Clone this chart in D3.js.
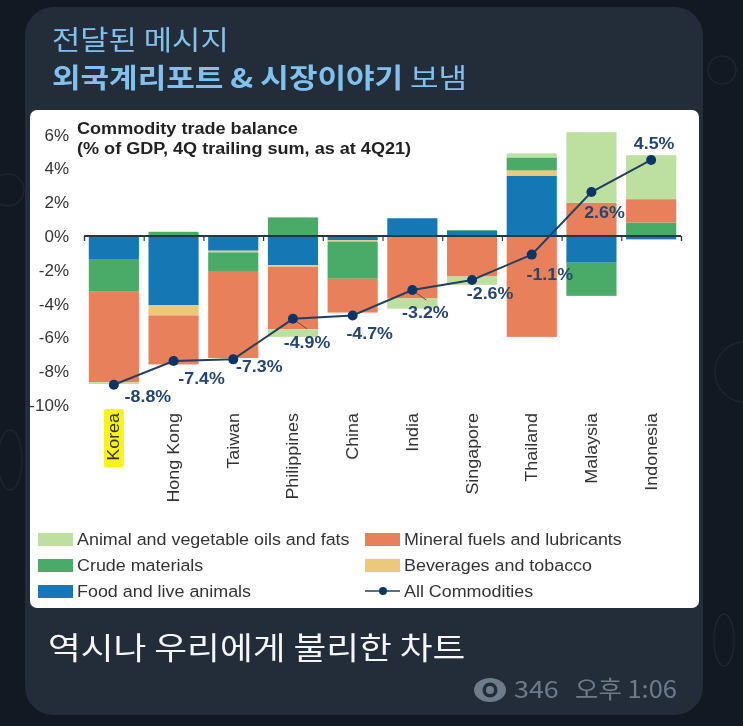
<!DOCTYPE html>
<html><head><meta charset="utf-8">
<script src="https://cdn.jsdelivr.net/npm/d3@7"></script>
<style>
html,body{margin:0;padding:0;background:#111922;overflow:hidden}
svg{display:block;filter:blur(0.35px)}
.ko{font-family:"Noto Sans CJK KR","Noto Sans",sans-serif}
.en{font-family:"Liberation Sans",Arial,sans-serif}
.axis path,.axis line{stroke:#3a4650}
.axis .domain{display:none}
</style></head><body>
<svg id="c" width="743" height="726"></svg>
<script>
const categories = ["Korea","Hong Kong","Taiwan","Philippines","China","India","Singapore","Thailand","Malaysia","Indonesia"];
const food    = [-1.36,-4.1,-0.87,-1.72,-0.25,1.05,0.3,3.55,-1.58,-0.2];
const bev     = [0,-0.6,-0.1,-0.1,-0.08,0,0,0.33,0,0];
const crude   = [-1.9,0.25,-1.15,1.1,-2.2,0,0.05,0.77,-1.96,0.8];
const mineral = [-5.4,-2.9,-5.1,-3.7,-2.0,-3.7,-2.4,-5.97,1.97,1.38];
const oils    = [-0.1,0,0,-0.45,0,-0.6,-0.49,0.24,4.17,2.6];
const allCommodities = [-8.8,-7.4,-7.3,-4.9,-4.7,-3.2,-2.6,-1.1,2.6,4.5];
const yTicks = [6,4,2,0,-2,-4,-6,-8,-10];
const seriesNames = ["Food and live animals","Beverages and tobacco","Crude materials","Mineral fuels and lubricants","Animal and vegetable oils and fats"];
const title = ["Commodity trade balance","(% of GDP, 4Q trailing sum, as at 4Q21)"];

const colors = {food:"#1578b4",bev:"#ecc97a",crude:"#4aaa68",mineral:"#e8805c",oils:"#bde0a0"};
const svg = d3.select("#c");
// the source picture is slightly stretched sideways, so text is widened to match
const wide = (px,py,f)=>`translate(${px},${py}) scale(${f},1)`;

// faint wallpaper doodles around the bubble
const doodle = svg.append("g").attr("fill","none").attr("stroke","#1c2631").attr("stroke-width",1.5);
doodle.append("circle").attr("cx",745).attr("cy",372).attr("r",30);
doodle.append("circle").attr("cx",8).attr("cy",190).attr("r",16);
doodle.append("ellipse").attr("cx",10).attr("cy",460).attr("rx",12).attr("ry",30);
doodle.append("circle").attr("cx",722).attr("cy",70).attr("r",14);
doodle.append("ellipse").attr("cx",724).attr("cy",640).attr("rx",10).attr("ry",26);

// message bubble
svg.append("rect").attr("x",25).attr("y",7).attr("width",678).attr("height",708).attr("rx",28).attr("fill","#222d39");
svg.append("text").attr("class","ko").attr("transform",wide(52,50,1.14)).attr("font-size",27).attr("fill","#82c1ee").text("전달된 메시지");
const l2 = svg.append("text").attr("class","ko").attr("transform",wide(52,88,1.15)).attr("font-size",27).attr("fill","#82c1ee");
l2.append("tspan").attr("font-weight",700).text("외국계리포트 & 시장이야기");
l2.append("tspan").text(" 보냄");
svg.append("rect").attr("x",30).attr("y",110).attr("width",669).attr("height",498).attr("rx",7).attr("fill","#fff");
svg.append("text").attr("class","ko").attr("transform",wide(48,659,1.15)).attr("font-size",31).attr("fill","#f4f6f8").text("역시나 우리에게 불리한 차트");
// views / time
const eye = svg.append("g").attr("transform","translate(490,690)");
eye.append("ellipse").attr("rx",16).attr("ry",12).attr("fill","#6d7b8b");
eye.append("circle").attr("r",7.5).attr("fill","#222d39");
eye.append("circle").attr("r",4).attr("fill","#6d7b8b");
svg.append("text").attr("class","ko").attr("transform",wide(514,698,1.12)).attr("font-size",24).attr("fill","#6d7b8b").text("346");
svg.append("text").attr("class","ko").attr("transform",wide(575,698,1.06)).attr("font-size",24).attr("fill","#6d7b8b").text("오후 1:06");

// chart
const g = svg.append("g").attr("class","en");
const x = d3.scaleBand().domain(categories).range([84,681]).paddingInner(0.16).paddingOuter(0.08);
const y = d3.scaleLinear().domain([-10,6]).range([405,134.6]);
const idx = d3.scaleLinear().domain([0,categories.length]).range([84,681]);

const rows = categories.map((c,i)=>({c,food:food[i],bev:bev[i],crude:crude[i],mineral:mineral[i],oils:oils[i]}));
const keys = ["food","bev","crude","mineral","oils"];
const stacked = d3.stack().keys(keys).offset(d3.stackOffsetDiverging)(rows);
g.selectAll("g.s").data(stacked).join("g").attr("class","s").attr("fill",d=>colors[d.key])
 .selectAll("rect").data(d=>d).join("rect")
 .attr("x",d=>x(d.data.c)).attr("width",x.bandwidth())
 .attr("y",d=>y(Math.max(d[0],d[1]))).attr("height",d=>Math.abs(y(d[0])-y(d[1])));

// y axis
const ya = g.append("g").attr("class","axis").attr("transform","translate(69,0)")
 .call(d3.axisLeft(y).tickValues(yTicks).tickSize(0).tickPadding(0).tickFormat(d=>d+"%"));
ya.selectAll("text").attr("font-size",17).attr("fill","#333").attr("font-family","Liberation Sans");

// zero line with ticks at the category boundaries
const za = g.append("g").attr("transform",`translate(0,${y(0)})`)
 .call(d3.axisBottom(idx).tickValues(d3.range(0,categories.length+1)).tickSize(5).tickFormat(""));
za.selectAll("path,line").attr("stroke","#2b3a48").attr("stroke-width",1.2);
g.append("line").attr("x1",idx(0)).attr("x2",idx(10)).attr("y1",y(0)).attr("y2",y(0)).attr("stroke","#24384c").attr("stroke-width",2);

// category labels
const hl = x("Korea");
g.append("rect").attr("x",hl+x.bandwidth()/2-10).attr("y",409).attr("width",20).attr("height",58).attr("rx",2).attr("fill","#f7f21c");
g.selectAll("text.cat").data(categories).join("text").attr("class","cat")
 .attr("transform",d=>`translate(${x(d)+x.bandwidth()/2+5.5},413) rotate(-90) scale(1.12,1)`)
 .attr("text-anchor","end").attr("font-size",16).attr("fill","#333").text(d=>d);

// line + markers
const pts = categories.map((c,i)=>[x(c)+x.bandwidth()/2,y(allCommodities[i])]);
g.append("path").attr("d",d3.line()(pts)).attr("fill","none").attr("stroke","#25405f").attr("stroke-width",2);
const labelShift = [[34,11],[28,17],[26,7],[14,23],[17,18],[13,22],[18,13],[18,19],[13,20],[3,-17]];
[3,5].forEach(i=>{
  g.append("line").attr("x1",pts[i][0]).attr("y1",pts[i][1]).attr("x2",pts[i][0]+14).attr("y2",pts[i][1]+10).attr("stroke","#8a3f2a").attr("stroke-width",1);
});
g.selectAll("circle.p").data(pts).join("circle").attr("class","p").attr("cx",d=>d[0]).attr("cy",d=>d[1]).attr("r",5).attr("fill","#0b3566");
g.selectAll("text.v").data(allCommodities).join("text").attr("class","v")
 .attr("transform",(d,i)=>wide(pts[i][0]+labelShift[i][0],pts[i][1]+labelShift[i][1],1.08)).attr("dy","0.36em")
 .attr("text-anchor","middle").attr("font-size",16.5).attr("font-weight",700).attr("fill","#24466f").text(d=>d.toFixed(1)+"%");

// title
const t = g.append("g").selectAll("text").data(title).join("text")
 .attr("transform",(d,i)=>wide(77,134+i*20,1.13)).attr("font-size",16).attr("font-weight",700).attr("fill","#222").text(d=>d);

// legend
const legend = [
 {k:"oils",n:seriesNames[4],col:0,row:0},{k:"mineral",n:seriesNames[3],col:1,row:0},
 {k:"crude",n:seriesNames[2],col:0,row:1},{k:"bev",n:seriesNames[1],col:1,row:1},
 {k:"food",n:seriesNames[0],col:0,row:2},{k:null,n:"All Commodities",col:1,row:2}];
const lg = g.selectAll("g.l").data(legend).join("g").attr("class","l")
 .attr("transform",d=>`translate(${d.col?365:38},${539+d.row*26})`);
lg.filter(d=>d.k).append("rect").attr("y",-6).attr("width",35).attr("height",13).attr("fill",d=>colors[d.k]);
const ll = lg.filter(d=>!d.k);
ll.append("line").attr("x1",0).attr("x2",35).attr("stroke","#25405f").attr("stroke-width",1.5);
ll.append("circle").attr("cx",18).attr("r",4).attr("fill","#0b3566");
lg.append("text").attr("transform",wide(39,0,1.085)).attr("dy","0.36em").attr("font-size",16.5).attr("fill","#333").text(d=>d.n);
</script></body></html>
